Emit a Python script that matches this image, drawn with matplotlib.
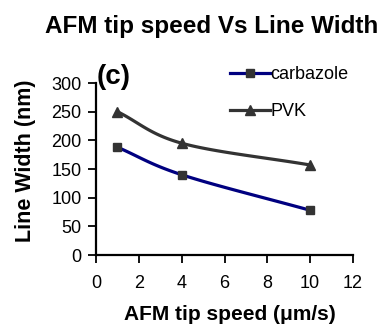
import numpy as np
import matplotlib
matplotlib.use("Agg")
import matplotlib.pyplot as plt
from matplotlib.lines import Line2D

plt.rcParams['font.family'] = ['Liberation Sans', 'DejaVu Sans']

speed = [1, 4, 10]
carbazole = [188, 140, 78]
pvk = [250, 195, 157]
xticks = [0, 2, 4, 6, 8, 10, 12]
yticks = [0, 50, 100, 150, 200, 250, 300]


def smooth(x, y, n=30):
    x = np.asarray(x, float); y = np.asarray(y, float)
    px = np.concatenate([[2 * x[0] - x[1]], x, [2 * x[-1] - x[-2]]])
    py = np.concatenate([[2 * y[0] - y[1]], y, [2 * y[-1] - y[-2]]])
    ox, oy = [], []
    for i in range(1, len(px) - 2):
        t = np.linspace(0, 1, n)
        p0, p1, p2, p3 = [np.array([px[j], py[j]]) for j in range(i - 1, i + 3)]
        pts = 0.5 * ((2 * p1)[None, :] + np.outer(t, (-p0 + p2)) +
                     np.outer(t ** 2, (2 * p0 - 5 * p1 + 4 * p2 - p3)) +
                     np.outer(t ** 3, (-p0 + 3 * p1 - 3 * p2 + p3)))
        ox.extend(pts[:, 0]); oy.extend(pts[:, 1])
    return ox, oy


fig = plt.figure(figsize=(3.85, 3.28), dpi=100)
ax = fig.add_axes([96 / 385, 1 - 255 / 328, 257 / 385, 172 / 328])

cx, cy = smooth(speed, carbazole)
px_, py_ = smooth(speed, pvk)
ax.plot(cx, cy, color='#000080', lw=2.3, clip_on=False)
ax.plot(speed, carbazole, ls='none', marker='s', ms=6, color='#333333', clip_on=False)
ax.plot(px_, py_, color='#333333', lw=2.3, clip_on=False)
ax.plot(speed, pvk, ls='none', marker='^', ms=7, color='#333333', clip_on=False)

h1 = Line2D([], [], color='#000080', lw=2.3, marker='s', ms=6, mfc='#333333', mec='#333333')
h2 = Line2D([], [], color='#333333', lw=2.3, marker='^', ms=7)
fig.legend([h1, h2], ['carbazole', 'PVK'], loc='upper left',
           bbox_to_anchor=(230 / 385, 1 - 66 / 328),
           frameon=False, fontsize=13, handlelength=2.2, handletextpad=0.05,
           borderaxespad=0, borderpad=0, labelspacing=1.1)

ax.set_xlim(0, 12)
ax.set_ylim(0, 300)
ax.set_xticks(xticks)
ax.set_yticks(yticks)
ax.tick_params(direction='out', length=5.5, width=1.3, labelsize=13)
ax.tick_params(axis='y', pad=5)
ax.tick_params(axis='x', pad=9)
for s in ['top', 'right']:
    ax.spines[s].set_visible(False)
for s in ['left', 'bottom']:
    ax.spines[s].set_linewidth(1.6)

ax.text(0.003, 1.035, '(c)', transform=ax.transAxes, fontsize=20, fontweight='bold',
        ha='left', va='center')
fig.text(229.5 / 385, 1 - 315 / 328, 'AFM tip speed (\u03bcm/s)', ha='center', va='center',
         fontsize=15, fontweight='bold')
fig.text(26 / 385, 1 - 161 / 328, 'Line Width (nm)', ha='center', va='center',
         rotation=90, fontsize=15.5, fontweight='bold')
fig.text(212 / 385, 1 - 26 / 328, 'AFM tip speed Vs Line Width', ha='center', va='center',
         fontsize=17.5, fontweight='bold')

fig.savefig('out.png', dpi=100)
